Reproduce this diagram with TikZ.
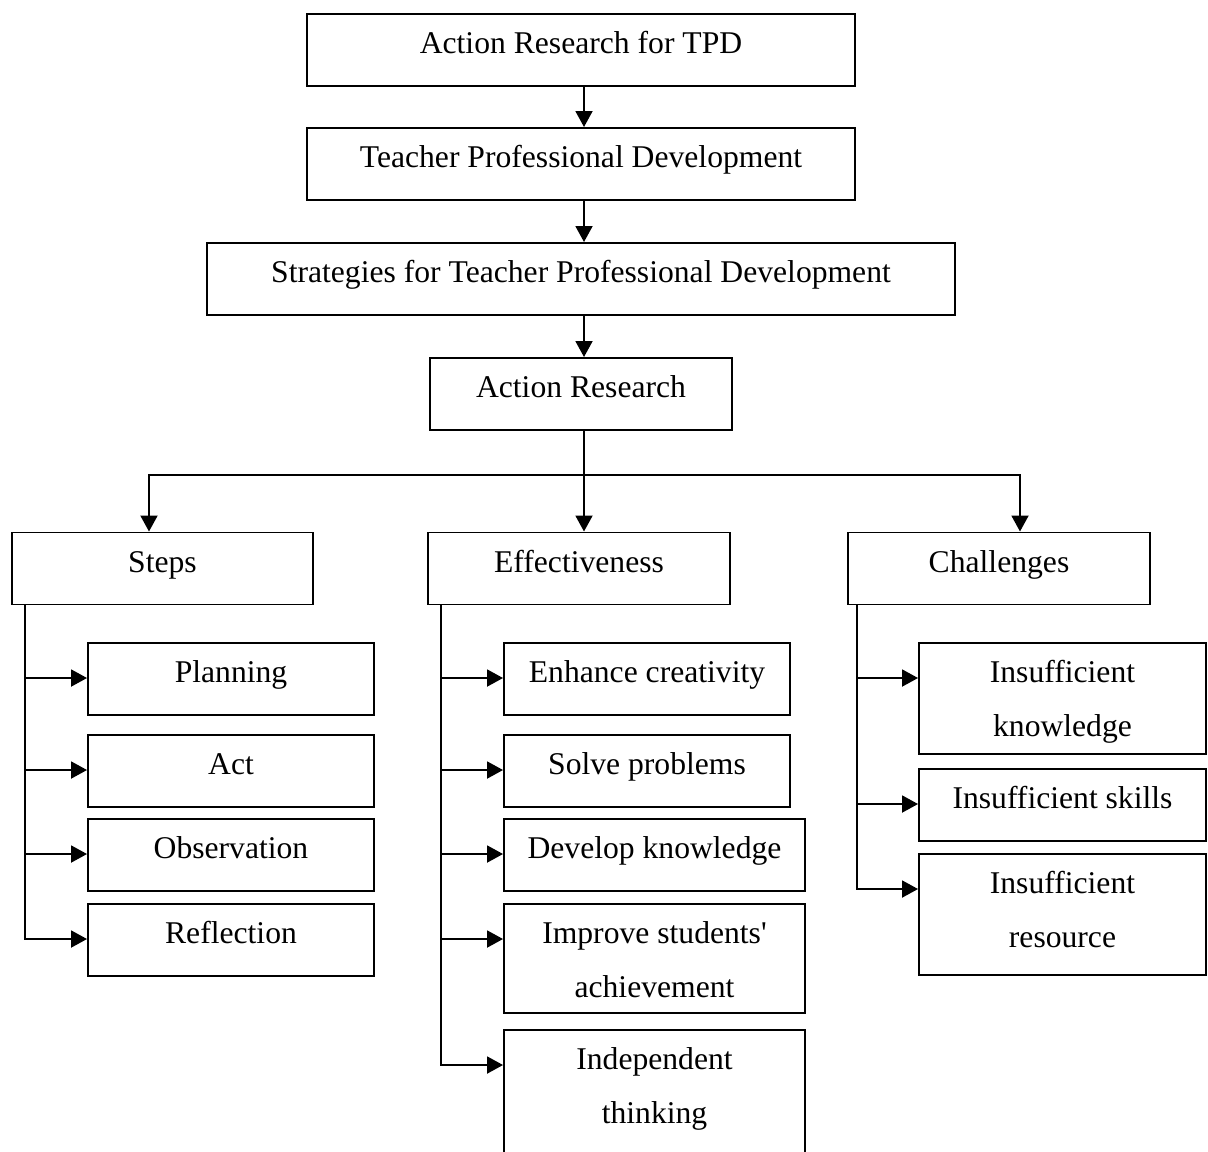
\documentclass[tikz,border=0pt]{standalone}
\usepackage{fontspec}
\setmainfont{Liberation Serif}
\usetikzlibrary{arrows.meta}

% struts that fix the text position inside the two-line boxes
\newcommand{\boxtop}{\rule{0pt}{0.8cm}}
\newcommand{\boxbot}[1]{\rule[-#1]{0pt}{#1}}

\begin{document}
\begin{tikzpicture}[
  box/.style={draw, line width=1.1pt, inner sep=0pt, anchor=north, font={\fontsize{18pt}{30.2pt}\selectfont}},
  single/.style={box, text height=0.8cm, text depth=0.64cm},
  double/.style={box, align=center},
  arr/.style={line width=1.1pt, -{Triangle[length=0.32cm, width=0.34cm]}}
]
  % Page frame
  \clip (0,0) rectangle (24.16,-23.02);

  % Main chain
  \node[single, minimum width=10.96cm] (tpd) at (11.62,-0.26) {Action Research for TPD};
  \node[single, minimum width=10.96cm] (tpdev) at (11.62,-2.54) {Teacher Professional Development};
  \node[single, minimum width=14.96cm] (strat) at (11.62,-4.84) {Strategies for Teacher Professional Development};
  \node[single, minimum width=6.04cm] (ar) at (11.62,-7.14) {Action Research};

  % Second level
  \node[single, minimum width=6.02cm] (steps) at (3.25,-10.63) {Steps};
  \node[single, minimum width=6.04cm] (eff) at (11.58,-10.63) {Effectiveness};
  \node[single, minimum width=6.04cm] (chal) at (19.98,-10.63) {Challenges};

  % Steps
  \node[single, minimum width=5.72cm] (plan) at (4.62,-12.84) {Planning};
  \node[single, minimum width=5.72cm] (act) at (4.62,-14.68) {Act};
  \node[single, minimum width=5.72cm] (obs) at (4.62,-16.36) {Observation};
  \node[single, minimum width=5.72cm] (refl) at (4.62,-18.06) {Reflection};

  % Effectiveness
  \node[single, minimum width=5.72cm] (creat) at (12.94,-12.84) {Enhance creativity};
  \node[single, minimum width=5.72cm] (solve) at (12.94,-14.68) {Solve problems};
  \node[single, minimum width=6.02cm] (devk) at (13.09,-16.36) {Develop knowledge};
  \node[double, minimum width=6.02cm] (achv) at (13.09,-18.06)
    {\boxtop Improve students\textquotesingle\\achievement\boxbot{0.32cm}};
  \node[double, minimum width=6.02cm] (indep) at (13.09,-20.58)
    {\boxtop Independent\\thinking\boxbot{0.9cm}};

  % Challenges
  \node[double, minimum width=5.74cm] (know) at (21.25,-12.84)
    {\boxtop Insufficient\\knowledge\boxbot{0.36cm}};
  \node[single, minimum width=5.74cm] (skill) at (21.25,-15.36) {Insufficient skills};
  \node[double, minimum width=5.74cm] (res) at (21.25,-17.06)
    {\boxtop Insufficient\\resource\boxbot{0.56cm}};

  % Arrows of the main chain
  \draw[arr] ([xshift=0.06cm]tpd.south) -- ([xshift=0.06cm]tpdev.north);
  \draw[arr] ([xshift=0.06cm]tpdev.south) -- ([xshift=0.06cm]strat.north);
  \draw[arr] ([xshift=0.06cm]strat.south) -- ([xshift=0.06cm]ar.north);

  % Fork to the second level
  \draw[arr] ([xshift=0.06cm]ar.south) -- ([xshift=0.1cm]eff.north);
  \draw[arr] ([xshift=0.06cm]ar.south) -- ++(0,-0.88) -| ([xshift=-0.27cm]steps.north);
  \draw[arr] ([xshift=0.06cm]ar.south) -- ++(0,-0.88) -| ([xshift=0.42cm]chal.north);

  % Lists
  \foreach \c in {plan,act,obs,refl}
    \draw[arr] ([xshift=0.28cm]steps.south west) |- ([yshift=-0.72cm]\c.north west);
  \foreach \c in {creat,solve,devk,achv,indep}
    \draw[arr] ([xshift=0.28cm]eff.south west) |- ([yshift=-0.72cm]\c.north west);
  \foreach \c in {know,skill,res}
    \draw[arr] ([xshift=0.2cm]chal.south west) |- ([yshift=-0.72cm]\c.north west);
\end{tikzpicture}
\end{document}
